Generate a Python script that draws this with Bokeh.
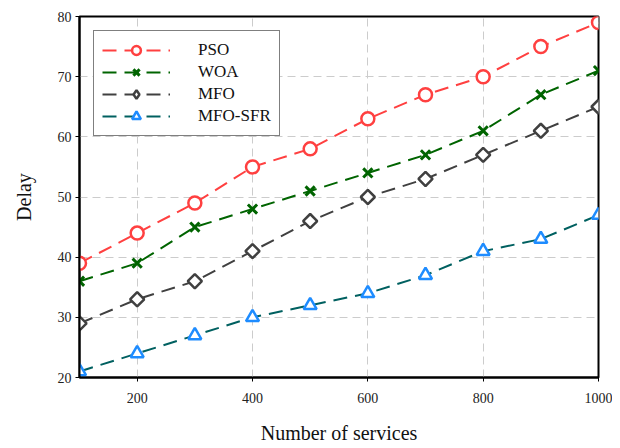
import math
from bokeh.plotting import figure
from bokeh.models import Legend, LegendItem, FixedTicker, Range1d
from bokeh.embed import file_html
from bokeh.resources import INLINE

services = [100, 200, 300, 400, 500, 600, 700, 800, 900, 1000]
pso = [39, 44, 49, 55, 58, 63, 67, 70, 75, 79]
woa = [36, 39, 45, 48, 51, 54, 57, 61, 67, 71]
mfo = [29, 33, 36, 41, 46, 50, 53, 57, 61, 65]
mfo_sfr = [21, 24, 27, 30, 32, 34, 37, 41, 43, 47]
x_ticks = [200, 400, 600, 800, 1000]
y_ticks = [20, 30, 40, 50, 60, 70, 80]

FONT = "Liberation Serif"

p = figure(width=612, height=448, output_backend="svg", toolbar_location=None,
           x_range=Range1d(100, 1000), y_range=Range1d(20, 80),
           min_border_left=79, min_border_right=14, min_border_top=16, min_border_bottom=71)

p.outline_line_color = "black"
p.outline_line_width = 2

for ax in (p.xaxis[0], p.yaxis[0]):
    ax.axis_line_color = "black"
    ax.axis_line_width = 2
    ax.major_tick_out = 4
    ax.major_tick_in = 0
    ax.major_tick_line_color = "black"
    ax.minor_tick_out = 0
    ax.minor_tick_in = 0
    ax.major_label_text_font = FONT
    ax.major_label_text_font_size = "14px"
    ax.major_label_text_color = "#222222"
    ax.axis_label_text_font = FONT
    ax.axis_label_text_font_size = "20px"
    ax.axis_label_text_font_style = "normal"
    ax.axis_label_text_color = "#111111"

p.xaxis.ticker = FixedTicker(ticks=x_ticks)
p.yaxis.ticker = FixedTicker(ticks=y_ticks)
p.xaxis.axis_label = "Number of services"
p.yaxis.axis_label = "Delay"
p.xaxis.major_label_standoff = 11
p.xaxis.axis_label_standoff = 16
p.yaxis.major_label_standoff = 4
p.yaxis.axis_label_standoff = 20

for g in (p.xgrid[0], p.ygrid[0]):
    g.grid_line_color = "#cccccc"
    g.grid_line_dash = "8 5"
    g.grid_line_width = 1

series = [
    ("PSO", pso, "#ff4040", "circle", "#ff4040", 13, 0),
    ("WOA", woa, "#006400", "x", "#006400", 13, 0),
    ("MFO", mfo, "#404040", "square", "#404040", 10, math.pi / 4),
    ("MFO-SFR", mfo_sfr, "#006060", "triangle", "#1e8cff", 13, 0),
]

items = []
for name, ys, lc, mk, mc, sz, ang in series:
    r1 = p.line(services, ys, line_color=lc, line_width=2, line_dash="14 8")
    r2 = p.scatter(services, ys, marker=mk, size=sz, angle=ang, line_color=mc,
                   line_width=3 if mk == "x" else 2.5,
                   fill_color="white" if mk != "x" else None)
    rend = [r1, r2]
    if ang:
        # legend-only swatch (rotated squares are not rotated in legends)
        r3 = p.scatter([float("nan")], [float("nan")], marker="diamond", size=15,
                       line_color=mc, line_width=2.5, fill_color="white")
        rend = [r1, r3]
    items.append(LegendItem(label=name, renderers=rend))

legend = Legend(items=items, location="top_left", margin=14, padding=8, spacing=0,
                glyph_width=68, glyph_height=22, label_height=20, label_standoff=28,
                label_text_font=FONT, label_text_font_size="17px", label_text_color="#111111",
                border_line_color="black", border_line_width=1.5, background_fill_alpha=1)
p.add_layout(legend, "center")

open("out.html", "w").write(file_html(p, INLINE))
